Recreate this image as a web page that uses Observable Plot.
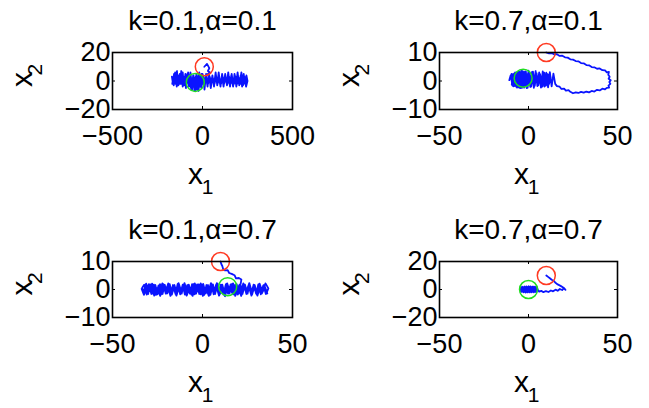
<!DOCTYPE html>
<html><head><meta charset="utf-8">
<script src="https://cdn.jsdelivr.net/npm/d3@7"></script>
<script src="https://cdn.jsdelivr.net/npm/@observablehq/plot@0.6"></script>
<style>
body{margin:0;background:#fff;}
#chart{position:relative;width:649px;height:408px;background:#fff;overflow:hidden;}
#chart svg{position:absolute;}
</style></head><body><div id="chart"></div>
<script>
const titles = ["k=0.1,α=0.1","k=0.7,α=0.1","k=0.1,α=0.7","k=0.7,α=0.7"];
const xDomains = [[-500,500],[-50,50],[-50,50],[-50,50]];
const yDomains = [[-20,20],[-10,10],[-10,10],[-20,20]];
const xTicks = [[-500,0,500],[-50,0,50],[-50,0,50],[-50,0,50]];
const yTicks = [[-20,0,20],[-10,0,10],[-10,0,10],[-20,0,20]];
const startPoints = [[10,10],[10,10],[10,10],[10,10]];
const endPoints = [[-40,-1],[-3,1],[14,1],[0,0]];

const traj1 = [[10,10],[25,12],[38,9],[30,7],[42,6],[20,4],
[8,-3],[-5,5],[-15,-4],[-22,4],[-30,-6],[-38,3],[-45,-7],[-52,4],[-58,-5],[-66,5],[-72,-3],[-80,6],[-88,-2],[-95,5],[-103,-3],[-110,6],[-118,-2],[-126,5],[-134,-3],[-142,7],[-150,-2],[-158,5],[-165,-1],[-170,3],
[-160,-3],[-152,6],[-143,-4],[-135,4],[-126,-2],[-118,7],[-110,-4],[-100,3],[-92,-5],[-84,5],[-75,-4],[-67,6],[-58,-6],[-50,4],[-42,-7],[-34,5],[-25,-5],[-18,6],[-8,-4],[0,5],[10,-3],[18,4],[28,-4],[36,5],[46,-3],[55,4],[64,-3],[72,5],[82,-2],[90,6],[99,-3],[108,4],[117,-4],[126,5],[135,-2],[143,6],[152,-3],[160,4],[170,-4],[178,5],[187,-2],[195,6],[204,-3],[212,4],[220,-4],[229,5],[236,-2],[244,4],[250,0],
[242,-4],[233,3],[225,-3],[216,6],[207,-2],[198,3],[188,-4],[180,4],[171,-3],[162,5],[153,-4],[145,3],[136,-3],[127,4],[118,-2],[109,5],[100,-4],[91,3],[82,-3],[73,6],[64,-4],[55,3],[46,-5],[37,4],[28,-3],[20,5],[11,-6],[3,4],[-6,-5],[-14,3],[-22,-7],[-30,2],[-36,-6],[-42,1],[-48,-4],[-55,2],[-62,-6],
[-70,-1],[-78,4],[-86,0],[-96,3],[-104,-1],[-112,2],[-121,-2],[-130,3],[-138,0],[-147,4],[-155,-1],[-163,2],[-168,-2],
[-158,1],[-149,-2],[-140,3],[-131,-1],[-122,4],[-113,0],[-104,3],[-95,-2],[-86,2],[-77,-1],[-68,3],[-59,-3],[-50,1],[-41,-2],[-32,3],[-23,-1],[-14,2],[-5,-2],[4,3],[13,-1],[22,2],[31,-2],[40,3],[49,-1],[58,2],[67,-2],[76,3],[85,0],[94,2],[103,-2],[112,3],[121,-1],[130,2],[139,-2],[148,3],[157,0],[166,2],[175,-2],[184,3],[193,0],[202,2],[211,-2],[220,3],[229,0],[238,2],[246,-1],
[237,1],[228,-1],[219,2],[210,-1],[201,1],[192,-2],[183,1],[174,-1],[165,2],[156,-2],[147,1],[138,-1],[129,2],[120,-2],[111,1],[102,-1],[93,2],[84,-2],[75,1],[66,-1],[57,2],[48,-2],[39,1],[30,-1],[21,2],[12,-3],[3,1],[-6,-3],[-15,0],[-24,-4],[-33,0],[-42,-5],[-50,-1],
[-50,3],[-44,-5],[-38,2],[-32,-6],[-26,1],[-34,-3],[-44,2],[-36,-3],[-40,-1]];

const traj2 = [[10,10],[11.5,9.7],[13,9.8],[14.5,9.3],[16,9.4],[17.5,8.8],[19,8.9],[20.5,8.3],[22,8.2],[23.5,7.6],[25,7.5],[26.5,7.0],[28,6.9],[29.5,6.3],[31,6.2],[32.5,5.6],[34,5.5],[35.5,4.9],[37,4.8],[38.5,4.3],[40,4.4],[41.5,3.8],[43,3.7],[44,3.0],[45.2,3.2],[44.8,2.2],[45.6,1.5],[45.0,0.8],[46.2,0.3],[45.4,-0.4],[46.0,-1.0],[44.9,-1.6],[45.3,-2.3],[44.0,-2.4],[43,-2.9],[41.5,-2.7],[40,-3.3],[38.5,-3.1],[37,-3.7],[35.5,-3.5],[34,-4.0],[32.5,-3.7],[31,-4.1],[29.5,-3.8],[28,-4.2],[26.5,-4.0],[25,-4.3],[23.5,-3.8],[22.5,-3.2],[21,-3.4],[20,-2.7],[18.5,-2.8],[17.5,-2.0],[16,-1.8],[15,-1.0],
[14,2.6],[13,-1.9],[12,3.1],[11,-2.2],[10,2.9],[9,-2.0],[8,3.4],[7,-2.3],[6,3.0],[5,-1.8],[4,3.5],[3,-2.4],[2,3.2],[1,-2.1],[0,3.6],[-1,-2.5],[-2,3.3],[-3,-2.2],[-4,3.7],[-5,-2.4],[-6,3.1],[-7,-2.0],[-8,2.7],[-9,-1.6],[-10,2.0],[-10.8,0.3],
[-9.5,2.5],[-8.5,-1.9],[-7.5,3.0],[-6.5,-2.3],[-5.5,3.4],[-4.5,-2.5],[-3.5,3.5],[-2.5,-2.3],[-1.5,3.4],[-0.5,-2.4],[0.5,3.1],[1.5,-2.0],[2.5,3.3],[3.5,-1.7],[4.5,2.8],[5.5,-1.5],[6.5,2.4],[7.5,-1.3],[8.5,2.2],[9.5,-0.8],[10.5,1.9],[11.5,-1.1],[12.5,1.4],
[11.8,-0.4],[10.8,2.4],[9.8,-1.6],[8.8,2.9],[7.8,-2.0],[7,-1.0],[6,2.0],[5,-1.2],[4,2.5],[3,-1.5],[2,2.6],[1,-1.8],[0,2.9],[-1,-2.0],[-1.7,3.0],[-2.4,-2.3],[-3.1,3.4],[-3.8,-2.4],[-4.5,3.2],[-5.2,-2.3],[-5.9,3.0],[-6.6,-2.1],[-7.3,2.8],[-8,-1.8],[-8.7,2.4],[-9.4,-1.3],
[-8.8,1.8],[-8.2,-1.6],[-7.6,2.6],[-7,-2.0],[-6.4,3.0],[-5.8,-2.2],[-5.2,3.3],[-4.6,-2.4],[-4,3.4],[-3.4,-2.2],[-2.8,3.2],[-2.2,-2.0],[-1.6,2.9],[-1,-1.7],[-0.4,2.5],
[-1,-1.2],[-1.6,2.2],[-2.2,-1.0],[-2.8,1.9],[-3.4,-0.6],[-3.0,1.5],[-3.2,0.6],[-3,1]];

const traj3 = [[10,10],[10.5,9.0],[11,8.4],[11.5,7.2],[12.5,6.8],[14,6.9],[14.8,5.9],[16.2,5.6],[17.8,5.1],[18.6,4.0],[20.2,4.1],[21.6,3.6],[21.3,2.4],
[20,-1.5],[19,1.9],[17.6,-1.7],[16.4,2.0],[15,-1.4],[13.8,1.8],[12.4,-1.8],[11,1.7],[9.8,-1.5],[8.4,2.1],[7,-1.6],[5.8,1.8],[4.4,-1.9],[3,1.6],[1.8,-1.4],[0.4,2.0],[-1,-1.7],[-2.2,1.8],[-3.6,-1.5],[-5,1.9],[-6.2,-1.8],[-7.6,1.7],[-9,-1.6],[-10.2,2.0],[-11.6,-1.5],[-13,1.8],[-14.2,-1.7],[-15.6,1.6],[-17,-1.8],[-18.2,1.9],[-19.6,-1.4],[-21,1.7],[-22.2,-1.6],[-23.6,1.9],[-25,-1.7],[-26.2,1.6],[-27.6,-1.5],[-29,1.8],[-30.2,-1.6],[-31.6,1.4],[-33,-1.2],[-33.5,0.6],
[-32.4,1.7],[-31,-1.8],[-29.8,1.9],[-28.4,-1.6],[-27,1.7],[-25.8,-1.9],[-24.4,1.5],[-23,-1.7],[-21.8,1.9],[-20.4,-1.5],[-19,1.8],[-17.8,-1.9],[-16.4,1.6],[-15,-1.6],[-13.8,2.0],[-12.4,-1.7],[-11,1.7],[-9.8,-1.8],[-8.4,1.6],[-7,-1.5],[-5.8,1.9],[-4.4,-1.7],[-3,1.8],[-1.8,-1.6],[-0.4,1.7],[1,-1.9],[2.2,1.6],[3.6,-1.5],[5,1.9],[6.2,-1.7],[7.6,1.8],[9,-1.6],[10.2,1.7],[11.6,-1.8],[13,1.9],[14.2,-1.5],[15.6,1.8],[17,-1.7],[18.2,1.6],[19.6,-1.8],[21,1.9],[22.2,-1.6],[23.6,1.7],[25,-1.5],[26.2,1.8],[27.6,-1.7],[29,1.6],[30.2,-1.8],[31.6,1.7],[33,-1.4],[34.2,1.6],[35.6,-1.2],[36.6,0.4],
[35,2.2],[33.5,-0.8],[32,1.0],[30.5,-2.2],[29,0.5],[27.5,-1.1],[26,2.3],[24.5,-0.5],[23,1.2],[21.5,-2.3],[20,0.7],[18.5,-1.0],[17,2.2],[15.5,-0.6],[14,1.1],[12.5,-2.4],[11,0.6],[9.5,-1.2],[8,2.3],[6.5,-0.7],[5,1.0],[3.5,-2.3],[2,0.5],[0.5,-1.1],[-1,2.2],[-2.5,-0.5],[-4,1.2],[-5.5,-2.3],[-7,0.6],[-8.5,-1.0],[-10,2.3],[-11.5,-0.6],[-13,1.0],[-14.5,-2.2],[-16,0.5],[-17.5,-1.2],[-19,2.2],[-20.5,-0.7],[-22,1.1],[-23.5,-2.3],[-25,0.6],[-26.5,-1.0],[-28,2.1],[-29.5,-0.6],[-31,1.0],[-32.5,-1.9],[-33.8,0.2],
[-32.8,-0.9],[-31.3,2.1],[-29.8,-0.4],[-28.3,0.9],[-26.8,-2.2],[-25.3,0.4],[-23.8,-1.0],[-22.3,2.2],[-20.8,-0.5],[-19.3,1.1],[-17.8,-2.3],[-16.3,0.6],[-14.8,-0.9],[-13.3,2.3],[-11.8,-0.6],[-10.3,1.0],[-8.8,-2.2],[-7.3,0.5],[-5.8,-1.1],[-4.3,2.2],[-2.8,-0.7],[-1.3,1.2],[0.2,-2.3],[1.7,0.6],[3.2,-1.0],[4.7,2.3],[6.2,-0.5],[7.7,1.1],[9.2,-2.2],[10.7,0.4],[12.2,-1.0],[13.7,2.2],[15.2,-0.6],[16.7,1.0],[18.2,-2.3],[19.7,0.5],[21.2,-1.1],[22.7,2.2],[24.2,-0.6],[25.7,1.2],[27.2,-2.2],[28.7,0.5],[30.2,-0.9],[31.7,2.1],[33.2,-0.6],[34.7,1.0],[36,-1.4],
[35.2,-1.6],[33.8,1.5],[32.4,-1.7],[31,1.8],[29.8,-1.5],[28.4,1.7],[27,-1.8],[25.8,1.6],[24.4,-1.6],[23,1.8],[21.8,-1.5],[20.4,1.6],[19,-1.4],[17.8,1.5],[16.4,-1.2],[15.4,1.1],[14.4,-0.4],[14,1]];

const traj4 = [[10,10],[11,9],[12,8],[13,7],[14.2,6.2],[15,5],[16.1,3.8],[18,2.6],[19.7,1.3],[20.8,-0.2],[19.8,0.9],[18.9,-0.4],[17.6,0.4],[16.4,-0.9],[15.2,-0.1],[13.8,-1.3],[12.6,-0.7],[11.2,-1.8],[9.8,-1.1],[8.4,-1.9],[7.2,-1.0],[6,-1.5],[5.2,-0.3],
[4.8,1.6],[4.2,-1.8],[3.6,2.0],[3,-2.0],[2.4,2.1],[1.8,-2.1],[1.2,2.2],[0.6,-2.0],[0,2.3],[-0.6,-2.1],[-1.2,2.2],[-1.8,-2.0],[-2.4,2.1],[-3,-1.9],[-3.6,2.0],[-4.2,-1.6],[-4.6,1.2],
[-4.0,-1.7],[-3.4,1.9],[-2.8,-2.1],[-2.2,2.0],[-1.6,-2.2],[-1.0,2.1],[-0.4,-2.0],[0.2,2.2],[0.8,-2.1],[1.4,2.0],[2.0,-1.9],[2.6,2.1],[3.2,-1.8],[3.8,1.9],[4.4,-1.5],
[3.9,1.6],[3.3,-1.6],[2.7,1.8],[2.1,-1.7],[1.5,1.7],[0.9,-1.5],[0.3,1.5],[-0.3,-1.2],[0.2,0.6],[0,0]];

const trajectories = [traj1, traj2, traj3, traj4];

const FONT = "'Liberation Sans', Arial, Helvetica, sans-serif";
const chart = document.getElementById("chart");

function panel(i) {
  const right = i % 2 === 1, bottom = i >= 2;
  const W = right ? 325 : 324, H = 204;
  const ml = right ? 115 : 112, mr = 32;
  const mt = bottom ? 57 : 52, mb = bottom ? 91 : 95;
  const fw = W - ml - mr, fh = H - mt - mb;
  const svg = Plot.plot({
    width: W, height: H,
    marginLeft: ml, marginRight: mr, marginTop: mt, marginBottom: mb,
    style: {fontFamily: FONT, background: "transparent", color: "black", overflow: "visible"},
    x: {domain: xDomains[i]},
    y: {domain: yDomains[i]},
    marks: [
      Plot.line(trajectories[i], {x: d => d[0], y: d => d[1], stroke: "#0a14ff", strokeWidth: 1.8, curve: "linear"}),
      Plot.dot([startPoints[i]], {x: d => d[0], y: d => d[1], r: 9, stroke: "#ff3a22", strokeWidth: 1.5, fill: "none"}),
      Plot.dot([endPoints[i]], {x: d => d[0], y: d => d[1], r: 9, stroke: "#22dd22", strokeWidth: 1.5, fill: "none"}),
      Plot.frame({stroke: "black", strokeWidth: 1.6}),
      Plot.tickX(xTicks[i], {x: d => d, insetTop: fh - 3, stroke: "black"}),
      Plot.tickX(xTicks[i], {x: d => d, insetBottom: fh - 3, stroke: "black"}),
      Plot.tickY(yTicks[i], {y: d => d, insetRight: fw - 3, stroke: "black"}),
      Plot.tickY(yTicks[i], {y: d => d, insetLeft: fw - 3, stroke: "black"}),
      Plot.axisX({ticks: xTicks[i], tickSize: 0, tickPadding: 16, fontSize: 27, label: null}),
      Plot.axisY({ticks: yTicks[i], tickSize: 0, tickPadding: 2, fontSize: 27, label: null}),
      Plot.text([titles[i]], {text: d => d, frameAnchor: "top", dy: -31, fontSize: 28, lineAnchor: "middle"}),
      Plot.text(["x"], {text: d => d, frameAnchor: "bottom", dx: -7, dy: 74, fontSize: 30}),
      Plot.text(["1"], {text: d => d, frameAnchor: "bottom", dx: 5, dy: 84, fontSize: 21}),
      Plot.text(["x"], {text: d => d, frameAnchor: "left", rotate: -90, dx: -(ml - 21.5 - (right ? 3 : 0)), dy: 6, fontSize: 30}),
      Plot.text(["2"], {text: d => d, frameAnchor: "left", rotate: -90, dx: -(ml - 35 - (right ? 3 : 0)), dy: -5.5, fontSize: 21})
    ]
  });
  svg.style.left = (right ? 324 : 0) + "px";
  svg.style.top = (bottom ? 204 : 0) + "px";
  chart.appendChild(svg);
}
for (let i = 0; i < 4; i++) panel(i);
</script>
</body></html>
